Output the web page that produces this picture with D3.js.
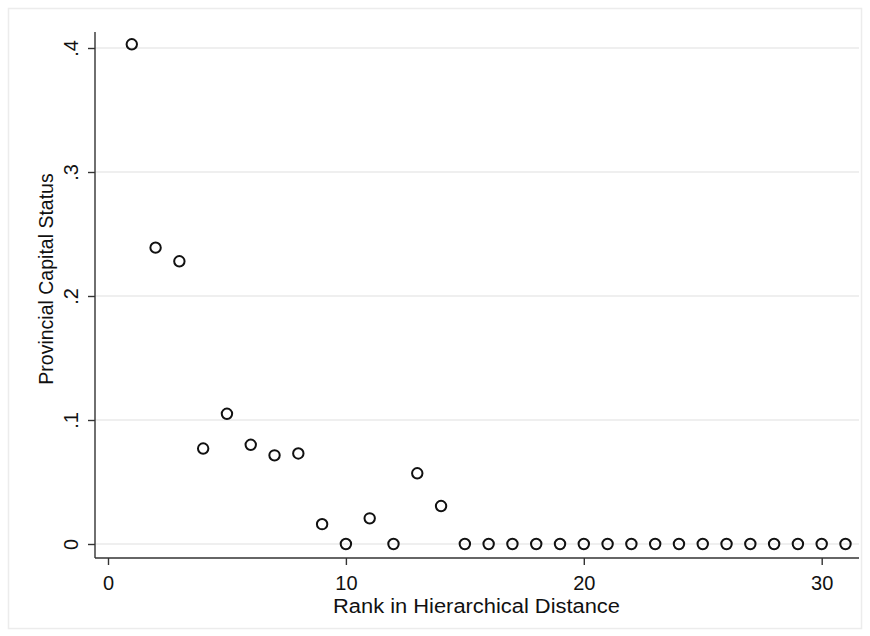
<!DOCTYPE html>
<html><head><meta charset="utf-8">
<script src="https://cdn.jsdelivr.net/npm/d3@7"></script>
<style>body{margin:0;background:#fff}svg{display:block}</style>
</head><body>
<script>
const ranks = d3.range(1, 32);
const values = [0.403, 0.239, 0.228, 0.077, 0.105, 0.080, 0.0715, 0.073, 0.016, 0, 0.0207, 0, 0.057, 0.0306,
  0,0,0,0,0,0,0,0,0,0,0,0,0,0,0,0,0];
const xTicks = [0, 10, 20, 30];
const yTicks = [0, 0.1, 0.2, 0.3, 0.4];
const yTickLabels = ["0", ".1", ".2", ".3", ".4"];

(function(){
const W = 870, H = 636;
const svg = d3.select("body").append("svg").attr("width", W).attr("height", H);
svg.append("rect").attr("x", 8.5).attr("y", 8.5).attr("width", 853).attr("height", 620)
  .attr("fill", "#fff").attr("stroke", "#ececec").attr("stroke-width", 1.5);

const x = d3.scaleLinear().domain([0, 30]).range([108, 821.7]);
const y = d3.scaleLinear().domain([0, 0.4]).range([544, 48]);
const pl = 95, pr = 859, pt = 32, pb = 558;

svg.append("g").selectAll("line").data(yTicks).join("line")
  .attr("x1", pl).attr("x2", pr).attr("y1", d => y(d)).attr("y2", d => y(d))
  .attr("stroke", "#eaeaea").attr("stroke-width", 1.5);

const font = "Arial, 'Liberation Sans', sans-serif";
const yAxis = svg.append("g").attr("transform", `translate(${pl},0)`)
  .call(d3.axisLeft(y).tickValues(yTicks).tickFormat((d, i) => yTickLabels[i]).tickSize(7).tickPadding(6));
yAxis.select(".domain").attr("d", `M0,${pt}V${pb}`).attr("stroke", "#333").attr("stroke-width", 1.4);
yAxis.selectAll(".tick line").attr("stroke", "#333").attr("stroke-width", 1.4);
yAxis.selectAll(".tick text").attr("font-family", font).attr("font-size", 20).attr("fill", "#111")
  .attr("text-anchor", "middle").attr("x", 0).attr("y", 0).attr("dy", 0)
  .attr("transform", "translate(-17,0) rotate(-90)");

const xAxis = svg.append("g").attr("transform", `translate(0,${pb})`)
  .call(d3.axisBottom(x).tickValues(xTicks).tickFormat(d3.format("d")).tickSize(7).tickPadding(11));
xAxis.select(".domain").attr("d", `M${pl},0H${pr}`).attr("stroke", "#333").attr("stroke-width", 1.4);
xAxis.selectAll(".tick line").attr("stroke", "#333").attr("stroke-width", 1.4);
xAxis.selectAll(".tick text").attr("font-family", font).attr("font-size", 20).attr("fill", "#111");

svg.append("text").attr("x", 333).attr("y", 613).attr("text-anchor", "start")
  .attr("textLength", 287).attr("lengthAdjust", "spacingAndGlyphs")
  .attr("font-family", font).attr("font-size", 19.5).attr("fill", "#111").text("Rank in Hierarchical Distance");
svg.append("text").attr("transform", `translate(53,${279}) rotate(-90)`).attr("text-anchor", "middle")
  .attr("font-family", font).attr("font-size", 19.5).attr("fill", "#111").text("Provincial Capital Status");

svg.append("g").selectAll("circle").data(ranks).join("circle")
  .attr("cx", d => x(d)).attr("cy", (d, i) => y(values[i])).attr("r", 5.2)
  .attr("fill", "none").attr("stroke", "#111").attr("stroke-width", 2);
})();
</script>
</body></html>
